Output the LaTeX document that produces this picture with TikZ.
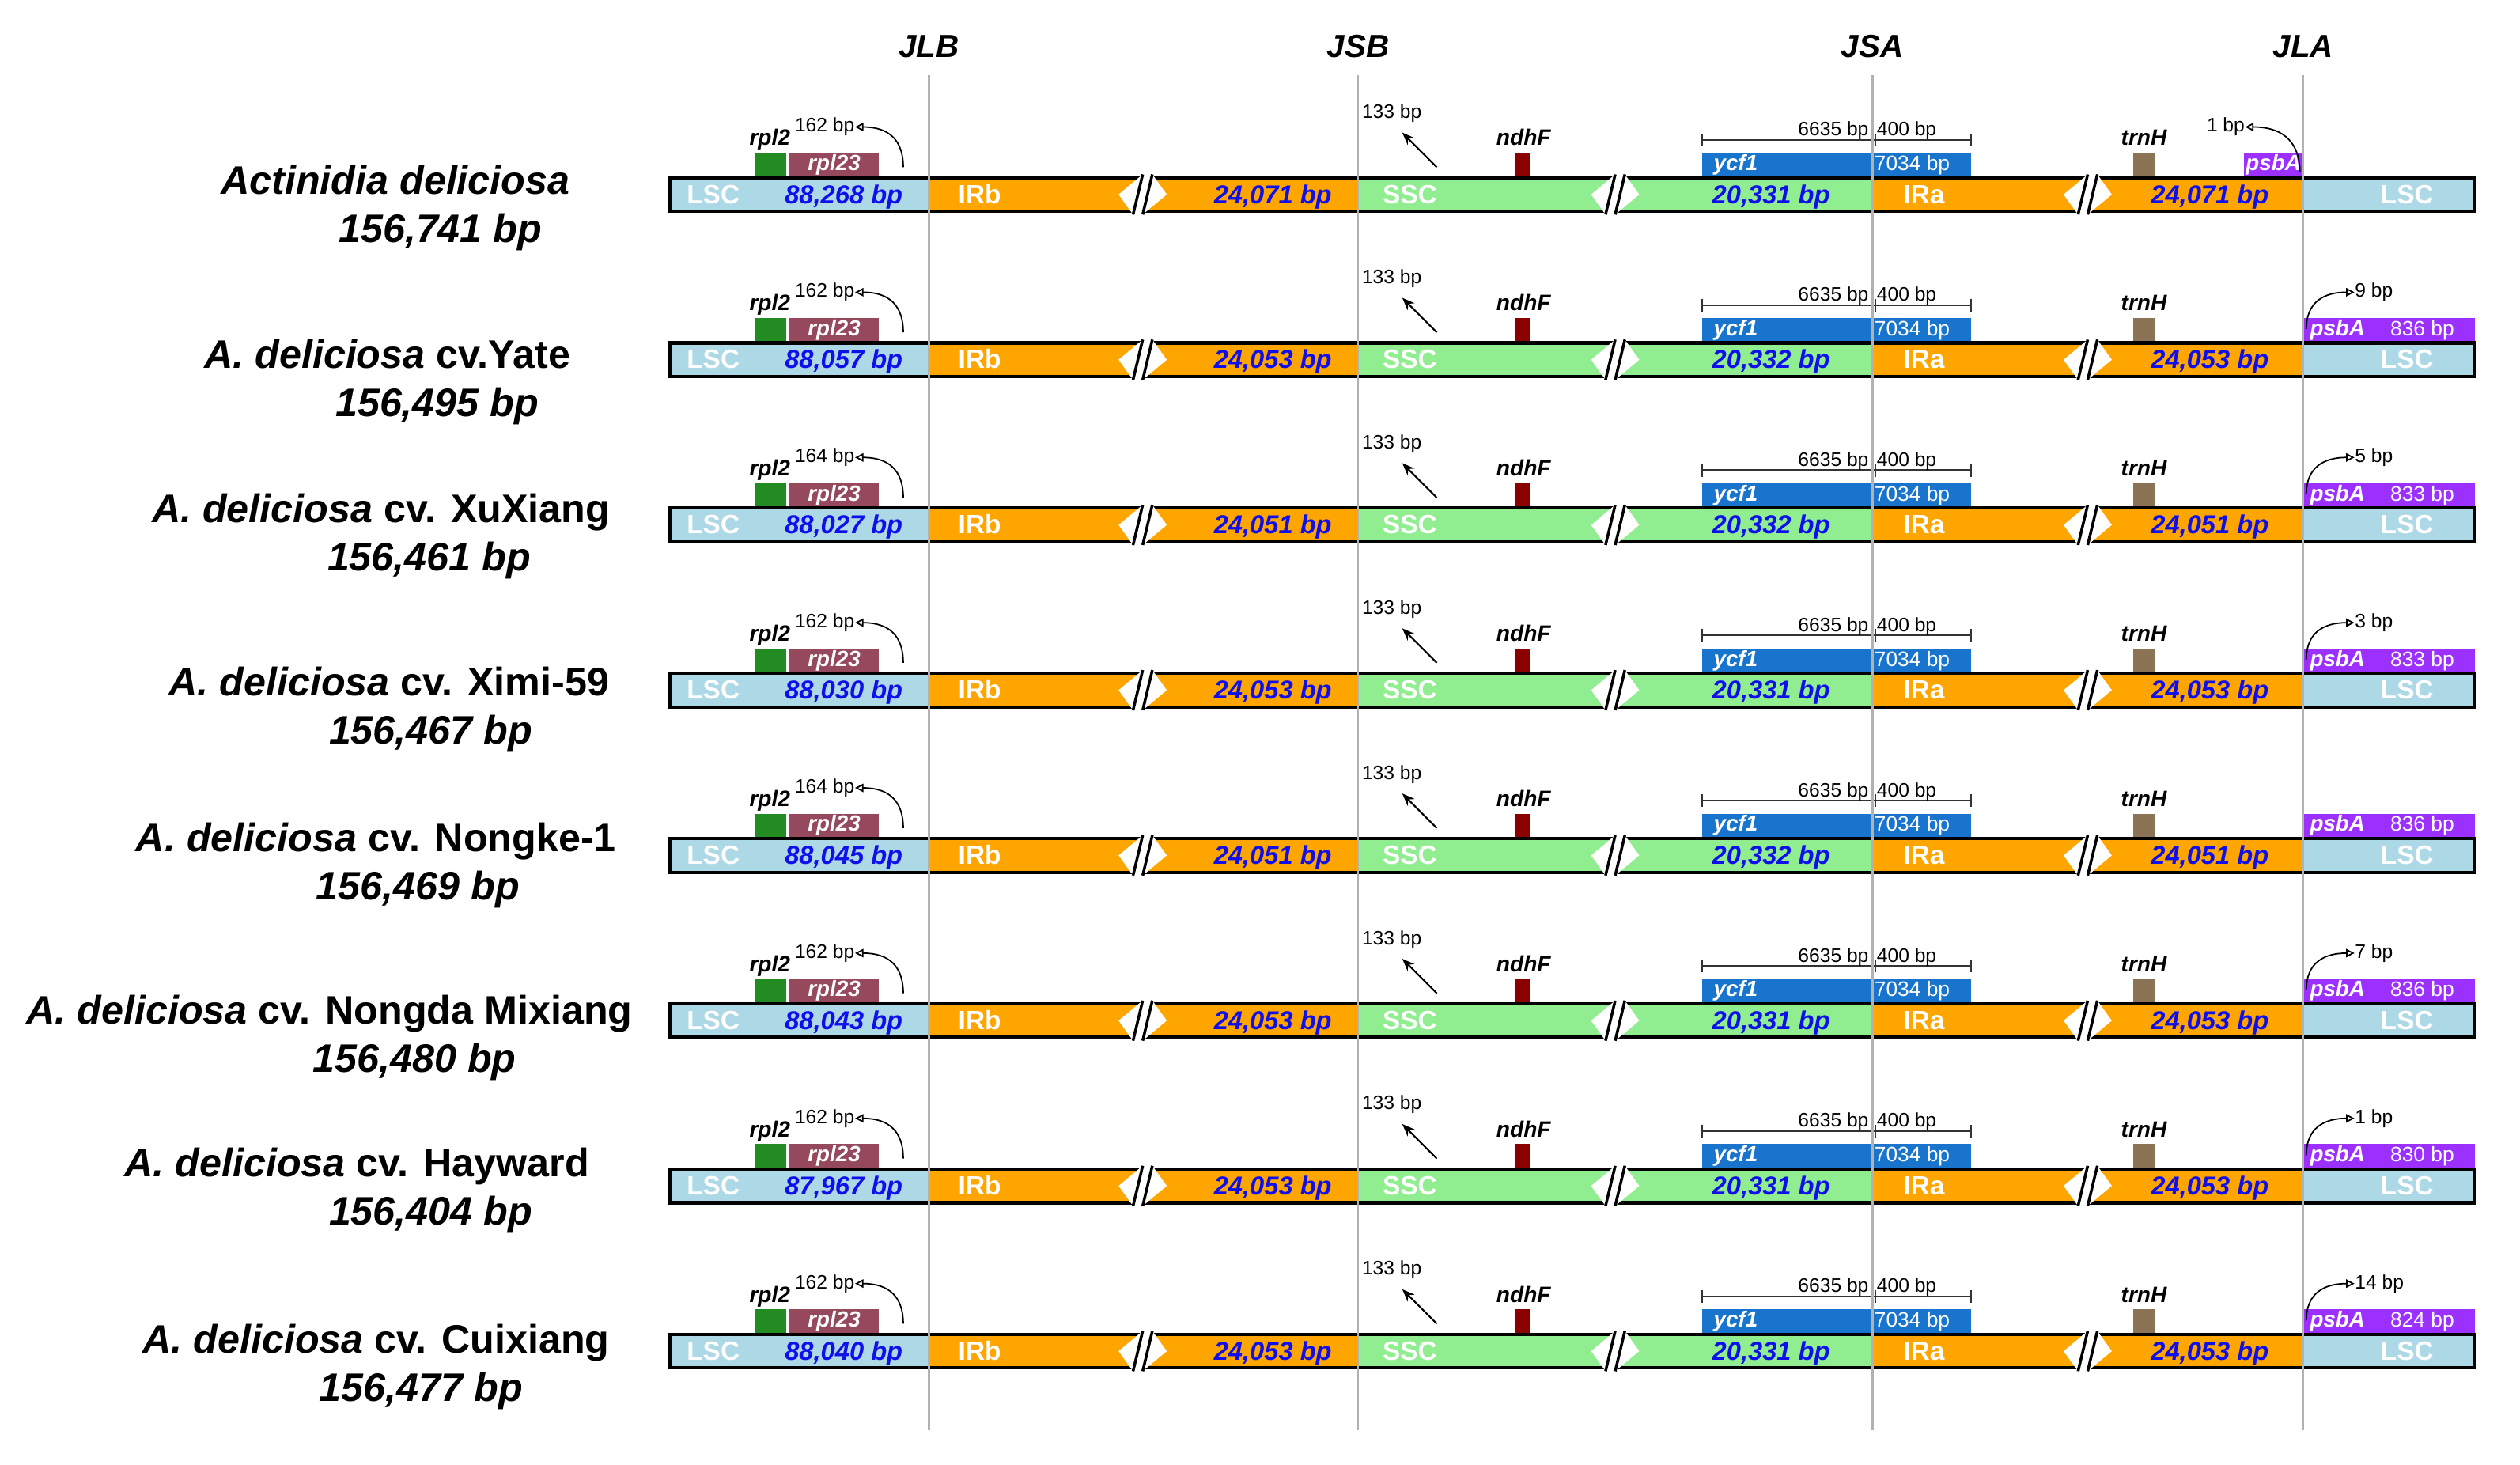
\documentclass[tikz,border=0pt]{standalone}
\usepackage{fontspec}
\setmainfont{Liberation Sans}
\usetikzlibrary{arrows.meta}

\definecolor{lscblue}{RGB}{173,216,230}
\definecolor{irorange}{RGB}{255,165,0}
\definecolor{sscgreen}{RGB}{144,238,144}
\definecolor{rpltwo}{RGB}{34,139,34}
\definecolor{rplbox}{RGB}{150,72,92}
\definecolor{ndhred}{RGB}{139,0,0}
\definecolor{ycfblue}{RGB}{24,116,205}
\definecolor{trnbrown}{RGB}{139,115,85}
\definecolor{psbpurple}{RGB}{155,48,255}
\definecolor{bptext}{RGB}{15,15,235}

\tikzset{
  seglabel/.style={inner sep=0pt,text=white,font=\fontsize{9.5}{10}\selectfont\bfseries},
  lenlabel/.style={inner sep=0pt,text=bptext,font=\fontsize{9.3}{10}\selectfont\bfseries\itshape},
  genename/.style={inner sep=0pt,font=\fontsize{8}{9}\selectfont\bfseries\itshape},
  boxtext/.style={inner sep=0pt,text=white,font=\fontsize{7.9}{8}\selectfont\bfseries\itshape},
  boxlen/.style={inner sep=0pt,text=white,font=\fontsize{7.5}{8}\selectfont},
  smalllen/.style={inner sep=0pt,font=\fontsize{7}{8}\selectfont},
  species/.style={inner sep=0pt,font=\fontsize{14.3}{16}\selectfont\bfseries},
  totlen/.style={inner sep=0pt,font=\fontsize{14.3}{16}\selectfont\bfseries\itshape},
  junction/.style={inner sep=0pt,font=\fontsize{11.5}{12}\selectfont\bfseries\itshape},
  jline/.style={gray!60,line width=0.8pt},
  bptip/.style={-{Triangle[open,length=3pt,width=3pt]},line width=0.5pt},
  ssctip/.style={-{Stealth[length=4.5pt,width=3.5pt]},line width=0.6pt},
}

% white break mark "//" on a bar, #1 = x, #2 = y centre
\newcommand{\barbreak}[2]{%
  \fill[white] (#1-15,#2) -- (#1,#2-12.5) -- (#1+6,#2-12.5) -- (#1+15,#2) -- (#1,#2+12.5) -- (#1-6,#2+12.5) -- cycle;
  \draw[line width=1pt] (#1-6,#2+12.5) -- (#1,#2-12.5) (#1,#2+12.5) -- (#1+6,#2-12.5);
}

\begin{document}
\begin{tikzpicture}[x=0.2032mm,y=-0.2032mm]
\useasboundingbox (0,0) rectangle (1568,911);

% one bar per genome
\foreach \i/\lsc/\ir/\ssc/\rpl/\psb in {%
  0/{88,268}/{24,071}/{20,331}/162/0,
  1/{88,057}/{24,053}/{20,332}/162/836,
  2/{88,027}/{24,051}/{20,332}/164/833,
  3/{88,030}/{24,053}/{20,331}/162/833,
  4/{88,045}/{24,051}/{20,332}/164/836,
  5/{88,043}/{24,053}/{20,331}/162/836,
  6/{87,967}/{24,053}/{20,331}/162/830,
  7/{88,040}/{24,053}/{20,331}/162/824}{
  \pgfmathsetmacro{\yc}{121+102.8*\i}
  \fill[lscblue] (417,\yc-10.5) rectangle (578,\yc+10.5);
  \fill[irorange] (578,\yc-10.5) rectangle (845,\yc+10.5);
  \fill[sscgreen] (845,\yc-10.5) rectangle (1165,\yc+10.5);
  \fill[irorange] (1165,\yc-10.5) rectangle (1433,\yc+10.5);
  \fill[lscblue] (1433,\yc-10.5) rectangle (1540,\yc+10.5);
  \draw[line width=1.2pt] (417,\yc-10.5) rectangle (1540,\yc+10.5);
  \barbreak{711}{\yc}
  \barbreak{1005}{\yc}
  \barbreak{1299}{\yc}
  \node[seglabel,anchor=base west] (lsca\i) at (427,\yc+5.5) {LSC};
  \node[lenlabel,anchor=base east] (lscl\i) at (562,\yc+5.5) {\lsc\ bp};
  \node[seglabel,anchor=base west] (irb\i) at (596,\yc+5.5) {IRb};
  \node[lenlabel,anchor=base east] (irbl\i) at (829,\yc+5.5) {\ir\ bp};
  \node[seglabel,anchor=base west] (ssc\i) at (860,\yc+5.5) {SSC};
  \node[lenlabel,anchor=base east] (sscl\i) at (1139,\yc+5.5) {\ssc\ bp};
  \node[seglabel,anchor=base west] (ira\i) at (1184,\yc+5.5) {IRa};
  \node[lenlabel,anchor=base east] (iral\i) at (1412,\yc+5.5) {\ir\ bp};
  \node[seglabel,anchor=base west] (lscb\i) at (1481,\yc+5.5) {LSC};
  % genes near JLB
  \fill[rpltwo] (470,\yc-26) rectangle (489,\yc-11.5);
  \fill[rplbox] (491,\yc-26) rectangle (547,\yc-11.5);
  \node[genename,anchor=base] (rpltwo\i) at (479,\yc-30.5) {rpl2};
  \node[boxtext,anchor=base] (rplbox\i) at (519,\yc-15) {rpl23};
  \node[smalllen,anchor=east] (rpll\i) at (532,\yc-42) {\rpl\ bp};
  \coordinate (rpls\i) at (562,\yc-17);
  \draw[bptip] (rpls\i) .. controls (562,\yc-34) and (553,\yc-42) .. (rpll\i.east);
  % genes near JSB
  \node[smalllen] (ssl\i) at (866,\yc-50.5) {133 bp};
  \coordinate (sss\i) at (894,\yc-17);
  \coordinate (sse\i) at (872.5,\yc-38.5);
  \draw[ssctip] (sss\i) -- (sse\i);
  \fill[ndhred] (942.5,\yc-26) rectangle (952,\yc-11.5);
  \node[genename,anchor=base] (ndh\i) at (948,\yc-30.5) {ndhF};
  % ycf1 across JSA
  \fill[ycfblue] (1059,\yc-26) rectangle (1226.5,\yc-11.5);
  \node[boxtext,anchor=base west] (ycf\i) at (1066,\yc-15) {ycf1};
  \node[boxlen,anchor=base west] (ycfl\i) at (1166,\yc-15) {7034 bp};
  \draw[black!80,line width=0.6pt] (1059,\yc-34) -- (1226.5,\yc-34)
    (1059,\yc-38) -- (1059,\yc-30) (1226.5,\yc-38) -- (1226.5,\yc-30)
    (1164.3,\yc-38) -- (1164.3,\yc-30) (1166.7,\yc-38) -- (1166.7,\yc-30);
  \node[smalllen,anchor=base east] (ycfa\i) at (1163,\yc-36.5) {6635 bp};
  \node[smalllen,anchor=base west] (ycfb\i) at (1167.5,\yc-36.5) {400 bp};
  % genes near JLA
  \fill[trnbrown] (1327.5,\yc-26) rectangle (1340.5,\yc-11.5);
  \node[genename,anchor=base] (trn\i) at (1334,\yc-30.5) {trnH};
  \ifnum\i=0
    \fill[psbpurple] (1396,\yc-26) rectangle (1433,\yc-11.5);
    \node[boxtext,anchor=base] (psb\i) at (1414.5,\yc-15) {psbA};
  \else
    \fill[psbpurple] (1433,\yc-26) rectangle (1540,\yc-11.5);
    \node[boxtext,anchor=base west] (psb\i) at (1437,\yc-15) {psbA};
    \node[boxlen,anchor=base west] (psbl\i) at (1487,\yc-15) {\psb\ bp};
  \fi
}

% psbA distance to JLA
\node[smalllen,anchor=east] (gap0) at (1397,79) {1 bp};
\coordinate (gs0) at (1431,107);
\draw[bptip] (gs0) .. controls (1431,90) and (1422,79) .. (gap0.east);
\foreach \i/\gap in {1/9,2/5,3/3,5/7,6/1,7/14}{
  \pgfmathsetmacro{\yc}{121+102.8*\i}
  \node[smalllen,anchor=west] (gap\i) at (1465,\yc-42) {\gap\ bp};
  \coordinate (gs\i) at (1435,\yc-19);
  \draw[bptip] (gs\i) .. controls (1435,\yc-36) and (1446,\yc-42) .. (gap\i.west);
}

% genome names
\foreach \i/\nx/\bx/\ny/\sp/\tot in {%
  0/246/274/121/{\textit{Actinidia deliciosa}}/{156,741},
  1/241/272/229/{\textit{A. deliciosa} cv.Yate}/{156,495},
  2/237/267/325/{\textit{A. deliciosa} cv. XuXiang}/{156,461},
  3/242/268/433/{\textit{A. deliciosa} cv. Ximi-59}/{156,467},
  4/234/260/530/{\textit{A. deliciosa} cv. Nongke-1}/{156,469},
  5/205/258/637/{\textit{A. deliciosa} cv. Nongda Mixiang}/{156,480},
  6/222/268/732/{\textit{A. deliciosa} cv. Hayward}/{156,404},
  7/234/262/842/{\textit{A. deliciosa} cv. Cuixiang}/{156,477}}{
  \node[species,anchor=base] (sp\i) at (\nx,\ny) {\sp};
  \node[totlen,anchor=base] (tot\i) at (\bx,\ny+30) {\tot\ bp};
}

% junctions
\foreach \jx/\jn in {578/JLB,845/JSB,1165/JSA,1433/JLA}{
  \node[junction] (\jn) at (\jx,29) {\jn};
  \draw[jline] (\jx,47) -- (\jx,890);
}
\end{tikzpicture}
\end{document}
